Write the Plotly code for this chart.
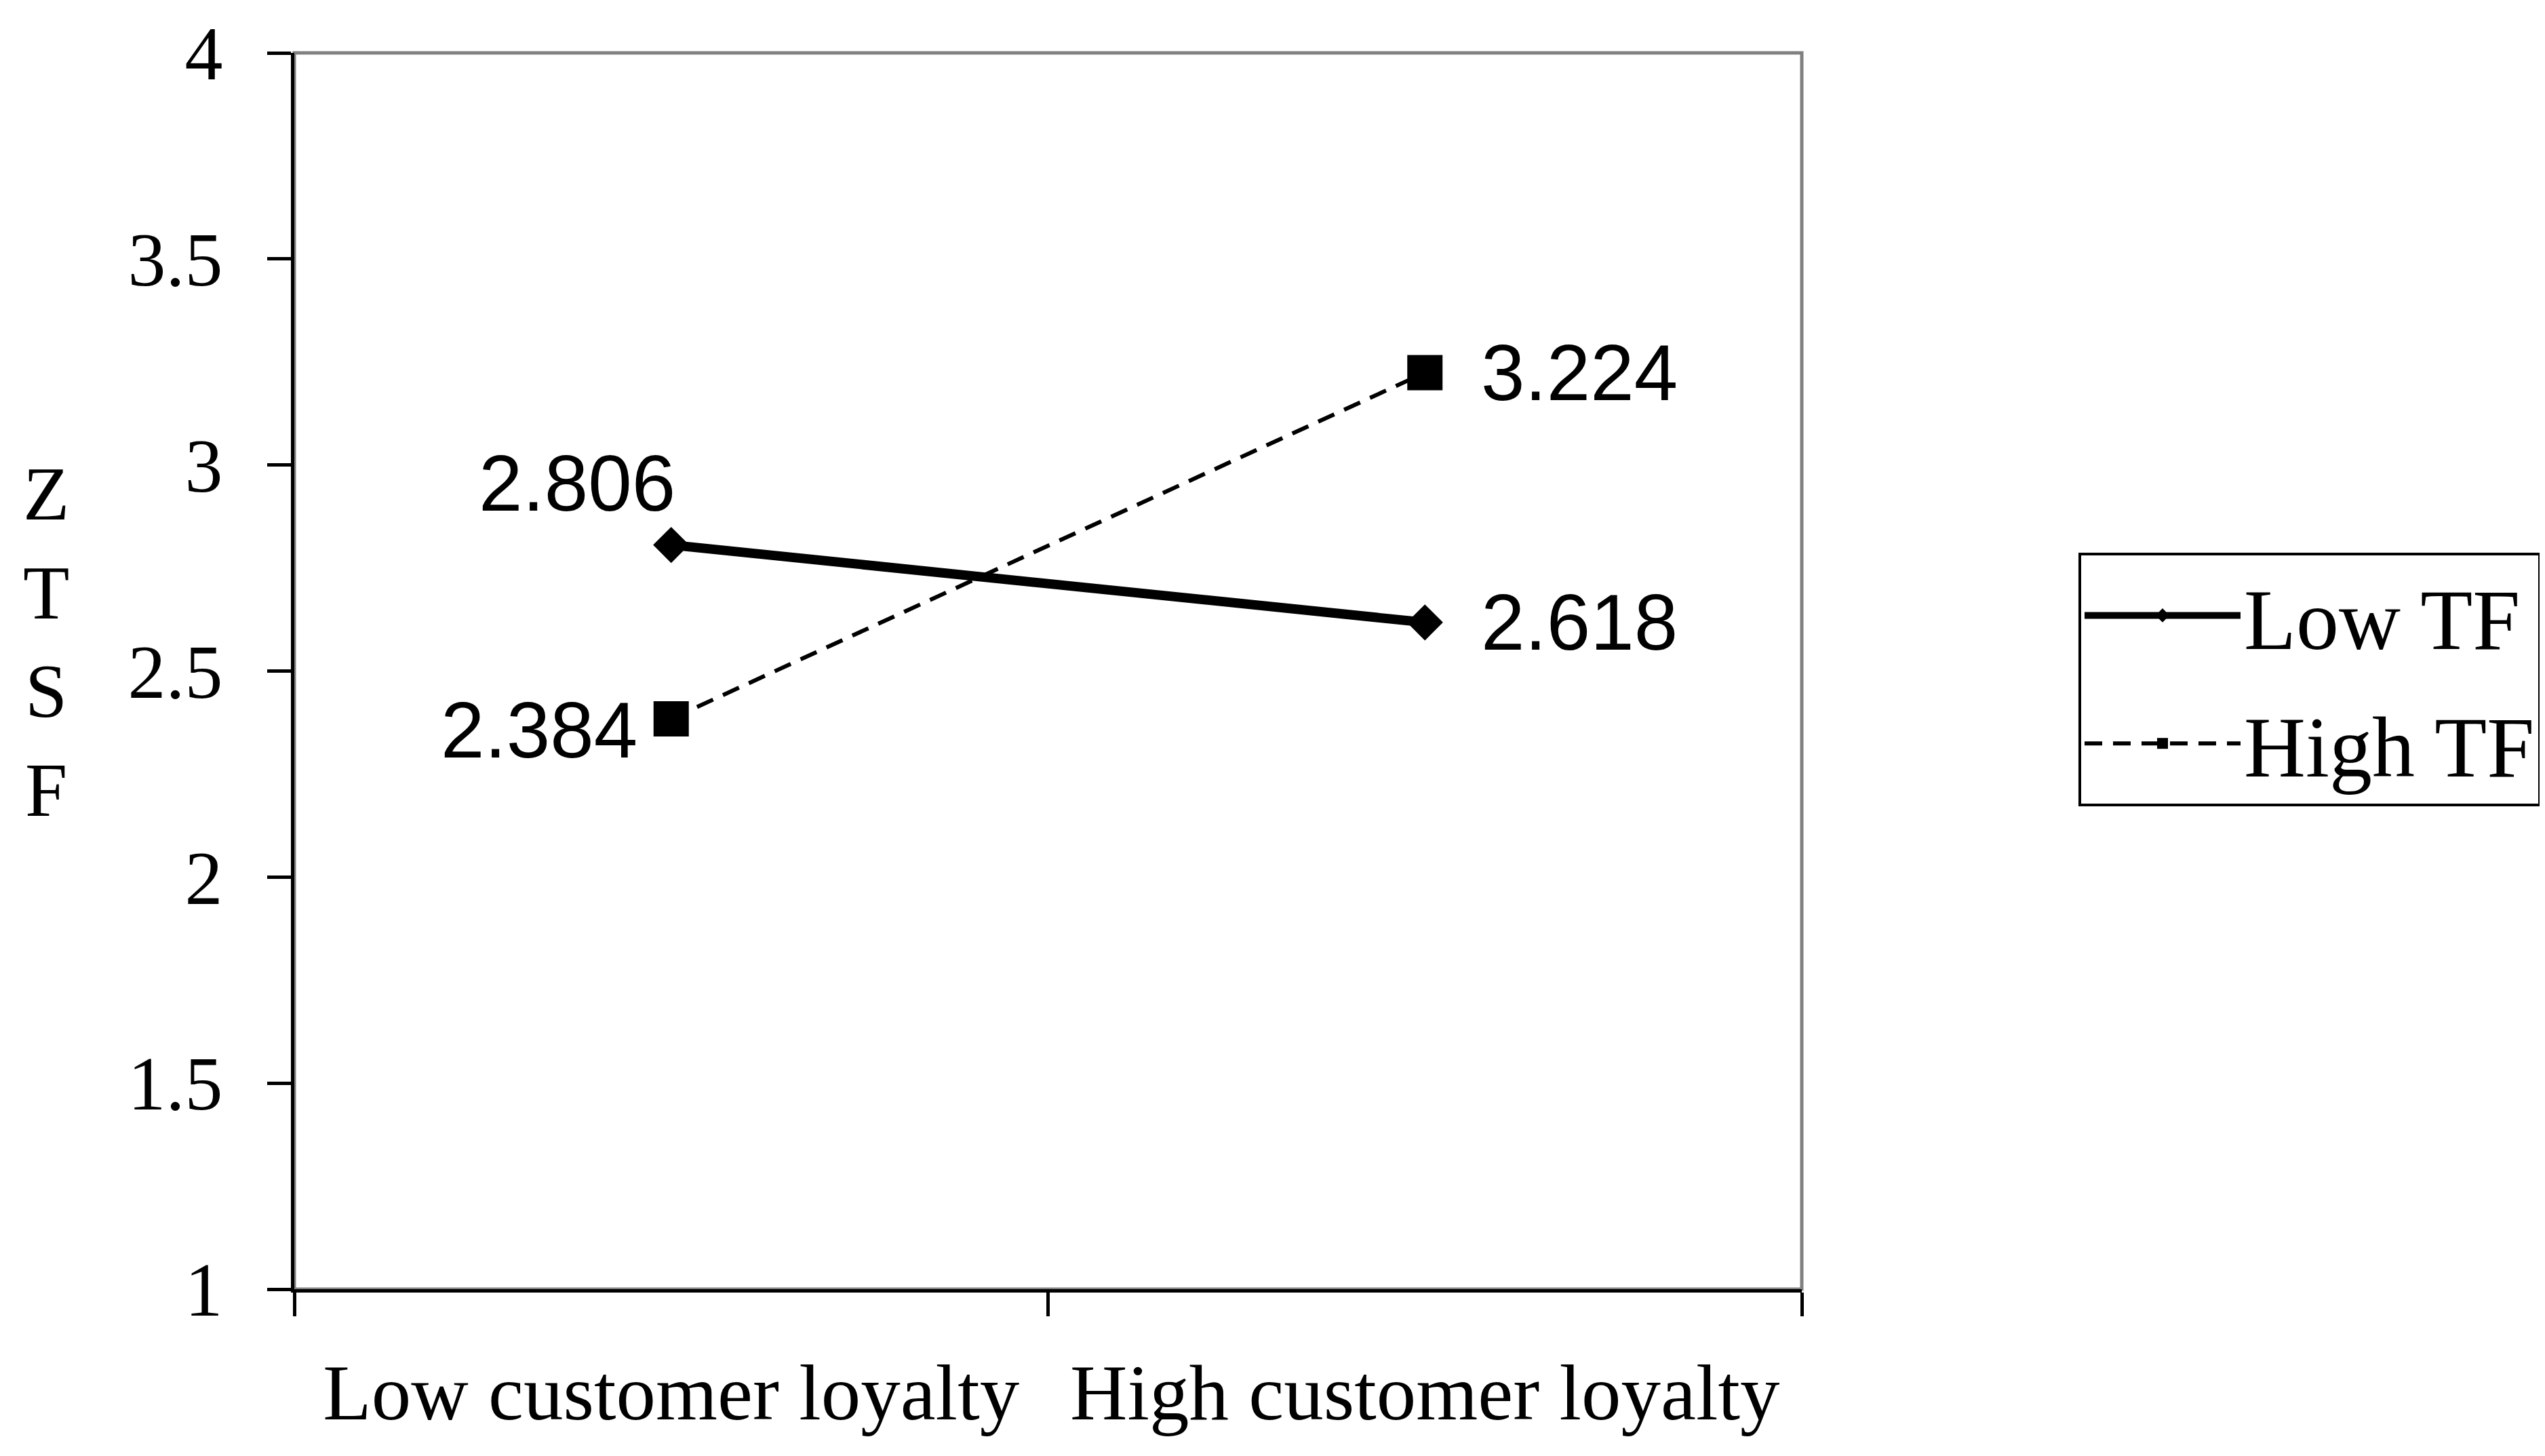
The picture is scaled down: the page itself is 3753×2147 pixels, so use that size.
import plotly.graph_objects as go

categories = ["Low customer loyalty", "High customer loyalty"]
series_names = ["Low TF", "High TF"]
low_tf = [2.806, 2.618]
high_tf = [2.384, 3.224]
y_ticks = [1, 1.5, 2, 2.5, 3, 3.5, 4]
y_tick_labels = ["1", "1.5", "2", "2.5", "3", "3.5", "4"]
y_title = "ZTSF"

W, H = 3753, 2147
SERIF = "Liberation Serif, Times New Roman, serif"
SANS = "Liberation Sans, Arial, sans-serif"

L, R, T, B = 426, 1104, 70, 254
pw, ph = W - L - R, H - T - B

fig = go.Figure()
fig.add_trace(go.Scatter(
    x=categories, y=low_tf, name=series_names[0], mode="lines+markers",
    legendgroup="a",
    line=dict(color="black", width=14),
    marker=dict(symbol="diamond", size=41, color="black"),
))
fig.add_trace(go.Scatter(
    x=categories, y=high_tf, name=series_names[1], mode="lines+markers",
    legendgroup="b",
    line=dict(color="black", width=6, dash="26px,16px"),
    marker=dict(symbol="square", size=52, color="black"),
))

# value labels (offsets in px are styling)
label_style = [
    (low_tf, 0, "center", -139, 91),
    (low_tf, 1, "left", 81, 0),
    (high_tf, 0, "right", -48, -17),
    (high_tf, 1, "left", 81, 0),
]
for vals, i, xa, xs, ys in label_style:
    fig.add_annotation(
        x=categories[i], y=vals[i], xref="x", yref="y",
        text=f"{vals[i]:.3f}", showarrow=False,
        xanchor=xa, yanchor="middle", xshift=xs, yshift=ys,
        font=dict(family=SANS, size=116, color="black"),
    )

# vertical stacked y title
fig.add_annotation(
    x=(60 - L) / pw, y=(H - B - 938) / ph, xref="paper", yref="paper",
    text="<br>".join(list(y_title)),
    showarrow=False, xanchor="center", yanchor="middle",
    font=dict(family=SERIF, size=112, color="black"),
)

# gray frame on top/right
fig.add_shape(type="rect", xref="paper", yref="paper", x0=0, x1=1, y0=0, y1=1,
              line=dict(color="#808080", width=5), layer="below")

fig.update_xaxes(
    type="category", tickson="boundaries", range=[-0.5, 1.5],
    showline=True, linecolor="black", linewidth=5,
    ticks="outside", ticklen=35, tickwidth=5, tickcolor="black",
    showgrid=False, zeroline=False,
    tickfont=dict(family=SERIF, size=117, color="black"),
    ticklabelstandoff=47,
)
fig.update_yaxes(
    range=[1, 4], tickvals=y_ticks, ticktext=y_tick_labels,
    showline=True, linecolor="black", linewidth=5,
    ticks="outside", ticklen=35, tickwidth=5, tickcolor="black",
    showgrid=False, zeroline=False,
    tickfont=dict(family=SERIF, size=112, color="black"),
    ticklabelstandoff=43,
)
fig.update_layout(
    width=W, height=H,
    margin=dict(l=L, r=R, t=T, b=B, autoexpand=False),
    paper_bgcolor="white", plot_bgcolor="white",
    showlegend=True,
    legend=dict(
        x=(3057 - L) / pw, y=(H - B - 807) / ph, xanchor="left", yanchor="top",
        bordercolor="black", borderwidth=4, bgcolor="white",
        font=dict(family=SERIF, size=126, color="black"),
        itemwidth=230, tracegroupgap=22, traceorder="grouped",
    ),
)
fig.write_html("out.html")
